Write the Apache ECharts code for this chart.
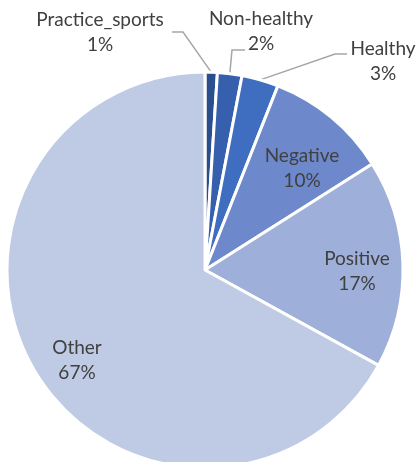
<!DOCTYPE html>
<html>
<head>
<meta charset="utf-8">
<script src="https://cdn.jsdelivr.net/npm/echarts@6/dist/echarts.min.js"></script>
<style>
  html, body { margin: 0; padding: 0; background: #fff; }
  #pie { width: 418px; height: 462px; }
</style>
</head>
<body>
<div id="pie"></div>
<script>
var pieChart = echarts.init(document.getElementById('pie'));

var categories = ['Practice_sports', 'Non-healthy', 'Healthy', 'Negative', 'Positive', 'Other'];
var values = [1, 2, 3, 10, 17, 67];
var colors = ['#2B4E8E', '#3660AE', '#3F6DC0', '#6D88CB', '#9EAFD9', '#BFCAE5'];
// which slices get their label inside the pie
var inside = [false, false, false, true, true, true];

// label centres (px) like the excel "best fit" placement
var labelPos = [[100, 32], [261, 31], [383, 61], [302, 168], [357, 271], [77, 360]];
// leader line bend points for the outside labels: [bend, end]
var leaderPts = [
    [[183, 32], [172, 32]],
    [[232, 50], [245, 50]],
    [[335, 54], [347, 54]]
];

var labelFont = {
    color: '#404040',
    fontSize: 19,
    lineHeight: 25,
    fontFamily: 'Lato, "Open Sans", sans-serif'
};

var sliceData = categories.map(function (name, i) {
    return {
        name: name,
        value: values[i],
        itemStyle: { color: colors[i] },
        label: { position: inside[i] ? 'inside' : 'outside' },
        labelLine: { show: !inside[i] }
    };
});

function fmt(p) {
    return '{c|' + p.name + '}\n{c|' + Math.round(p.percent) + '%}';
}

var option = {
    animation: false,
    series: [
        {
            type: 'pie',
            center: [205, 270],
            radius: [0, 198],
            startAngle: 90,
            clockwise: true,
            itemStyle: { borderColor: '#ffffff', borderWidth: 3 },
            label: {
                show: true,
                formatter: fmt,
                overflow: 'none',
                alignTo: 'none',
                rich: { c: Object.assign({ align: 'center' }, labelFont) }
            },
            labelLine: {
                lineStyle: { color: '#A6A6A6', width: 1.5 },
                smooth: false
            },
            labelLayout: function (params) {
                var i = params.dataIndex;
                var out = {
                    x: labelPos[i][0],
                    y: labelPos[i][1],
                    align: 'center',
                    verticalAlign: 'middle'
                };
                if (!inside[i] && params.labelLinePoints) {
                    out.labelLinePoints = [params.labelLinePoints[0], leaderPts[i][0], leaderPts[i][1]];
                }
                return out;
            },
            emphasis: { disabled: true },
            data: sliceData
        }
    ]
};
pieChart.setOption(option);
</script>
</body>
</html>
